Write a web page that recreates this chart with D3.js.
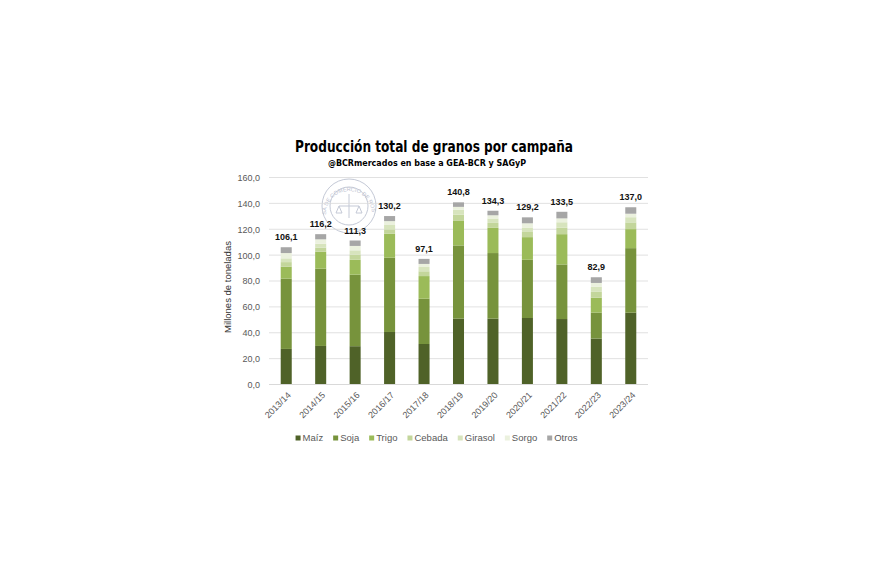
<!DOCTYPE html>
<html lang="es">
<head>
<meta charset="utf-8">
<title>Producción total de granos por campaña</title>
<style>
  body { margin: 0; background: #fff; }
  svg { display: block; }
</style>
</head>
<body>
<svg width="870" height="580"></svg>

<script src="https://cdn.jsdelivr.net/npm/d3@7"></script>
<script>
// Campañas y producción por cultivo (millones de toneladas)
var campaigns = ["2013/14", "2014/15", "2015/16", "2016/17", "2017/18", "2018/19",
                 "2019/20", "2020/21", "2021/22", "2022/23", "2023/24"];
var crops = ["Maíz", "Soja", "Trigo", "Cebada", "Girasol", "Sorgo", "Otros"];

var maiz    = [27.5, 29.8, 29.6, 40.6, 31.3, 50.9, 50.9, 51.4, 50.6, 35.5, 55.5];
var soja    = [54.3, 59.7, 55.3, 57.4, 35.0, 56.6, 50.7, 45.0, 42.2, 20.0, 49.9];
var trigo   = [ 9.3, 13.1, 11.5, 18.5, 17.5, 19.3, 19.5, 17.5, 23.4, 11.6, 14.7];
var cebada  = [ 3.5,  3.2,  4.0,  3.4,  3.7,  4.5,  3.8,  4.0,  5.0,  4.5,  5.2];
var girasol = [ 2.9,  3.0,  3.3,  3.4,  3.3,  3.8,  3.4,  3.4,  4.2,  3.9,  4.0];
var sorgo   = [ 4.1,  3.4,  3.4,  3.0,  2.4,  2.2,  2.5,  3.3,  3.0,  3.0,  2.7];
var otros   = [ 4.5,  4.0,  4.2,  3.9,  3.9,  3.5,  3.5,  4.6,  5.1,  4.4,  5.0];
var totals  = [106.1, 116.2, 111.3, 130.2, 97.1, 140.8, 134.3, 129.2, 133.5, 82.9, 137.0];

var yTicks = [0, 20, 40, 60, 80, 100, 120, 140, 160];
var colors = ["#4f6228", "#77933c", "#9bbb59", "#c3d69b", "#d7e4bd", "#ebf1de", "#a6a6a6"];

var series = [maiz, soja, trigo, cebada, girasol, sorgo, otros];
var rows = campaigns.map(function(c, i) {
    var r = { campaign: c, total: totals[i] };
    crops.forEach(function(k, j) { r[k] = series[j][i]; });
    return r;
});

var svg = d3.select("svg");
var font = "'Liberation Sans', Arial, sans-serif";
var fmt = function(v) { return d3.format(".1f")(v).replace(".", ","); };

var x = d3.scaleBand().domain(campaigns).range([269, 648])
    .paddingInner(0.68).paddingOuter(0.34);
var y = d3.scaleLinear().domain([0, 160]).range([384.5, 177.5]);
var color = d3.scaleOrdinal().domain(crops).range(colors);

// Sello de la Bolsa (marca de agua)
var seal = svg.append("g").attr("transform", "translate(349,206)")
    .attr("fill", "none").attr("stroke", "#c4c9d6").attr("stroke-width", 1);
seal.append("circle").attr("r", 27);
seal.append("circle").attr("r", 19);
seal.append("path").attr("id", "sealArc").attr("stroke", "none")
    .attr("d", "M -23,8 A 23,23 0 1,1 23,8");
seal.append("text").attr("fill", "#bcc1cf").attr("stroke", "none")
    .style("font-family", font).style("font-size", "5.5px")
    .append("textPath").attr("href", "#sealArc").attr("startOffset", "50%")
    .attr("text-anchor", "middle").text("BOLSA DE COMERCIO DE ROSARIO");
seal.append("path").attr("stroke", "#c4c9d6")
    .attr("d", "M -10,0 L 10,0 M 0,-12 L 0,12 M -10,0 L -13,7 L -7,7 Z M 10,0 L 7,7 L 13,7 Z");

// Líneas de cuadrícula
svg.append("g").selectAll("line").data(yTicks).join("line")
    .attr("x1", 269).attr("x2", 648)
    .attr("y1", function(d) { return y(d); }).attr("y2", function(d) { return y(d); })
    .attr("stroke", "#d9d9d9").attr("stroke-width", 0.8);

// Eje Y
var yAxis = svg.append("g").attr("transform", "translate(269,0)")
    .call(d3.axisLeft(y).tickValues(yTicks).tickSize(0).tickPadding(9).tickFormat(fmt));
yAxis.select(".domain").remove();
yAxis.selectAll("text").attr("fill", "#595959")
    .style("font-family", font).style("font-size", "9px");

svg.append("text")
    .attr("transform", "translate(231,287) rotate(-90)")
    .attr("text-anchor", "middle").attr("fill", "#333")
    .style("font-family", font).style("font-size", "9.5px")
    .text("Millones de toneladas");

// Barras apiladas
var stacked = d3.stack().keys(crops)(rows);
svg.append("g").selectAll("g").data(stacked).join("g")
    .attr("fill", function(d) { return color(d.key); })
    .selectAll("rect").data(function(d) { return d; }).join("rect")
    .attr("x", function(d) { return x(d.data.campaign); })
    .attr("width", x.bandwidth())
    .attr("y", function(d) { return y(d[1]); })
    .attr("height", function(d) { return y(d[0]) - y(d[1]); });

// Totales
svg.append("g").selectAll("text").data(rows).join("text")
    .attr("x", function(d) { return x(d.campaign) + x.bandwidth() / 2; })
    .attr("y", function(d) { return y(d.total) - 7; })
    .attr("text-anchor", "middle").attr("fill", "#111")
    .style("font-family", font).style("font-size", "9px").style("font-weight", "bold")
    .text(function(d) { return fmt(d.total); });

// Eje X
var xAxis = svg.append("g").attr("transform", "translate(0,384.5)")
    .call(d3.axisBottom(x).tickSize(0).tickPadding(0));
xAxis.select(".domain").attr("d", "M269,0H648").attr("stroke", "#d9d9d9");
xAxis.selectAll("text")
    .attr("transform", "translate(3,9) rotate(-45)")
    .attr("text-anchor", "end").attr("dy", "0.35em").attr("y", 0)
    .attr("fill", "#595959")
    .style("font-family", font).style("font-size", "9px");

// Títulos
svg.append("text").attr("x", 434).attr("y", 152).attr("text-anchor", "middle")
    .attr("textLength", 278).attr("lengthAdjust", "spacingAndGlyphs")
    .style("font-family", "'Liberation Sans Narrow', 'DejaVu Sans Condensed', sans-serif")
    .style("font-size", "16px").style("font-weight", "bold")
    .text("Producción total de granos por campaña");
svg.append("text").attr("x", 427).attr("y", 165.5).attr("text-anchor", "middle")
    .attr("textLength", 198).attr("lengthAdjust", "spacingAndGlyphs")
    .style("font-family", "'Liberation Sans Narrow', 'DejaVu Sans Condensed', sans-serif")
    .style("font-size", "8px").style("font-weight", "bold")
    .text("@BCRmercados en base a GEA-BCR y SAGyP");

// Leyenda
var legend = svg.append("g");
var lx = 0;
crops.forEach(function(k) {
    var item = legend.append("g").attr("transform", "translate(" + lx + ",0)");
    item.append("rect").attr("x", 0).attr("y", -2.5).attr("width", 5).attr("height", 5)
        .attr("fill", color(k));
    var t = item.append("text").attr("x", 7).attr("y", 0).attr("dy", "0.35em")
        .attr("fill", "#595959")
        .style("font-family", font).style("font-size", "9.5px").text(k);
    lx += 7 + t.node().getComputedTextLength() + 10;
});
legend.attr("transform", "translate(" + (436.5 - (lx - 10) / 2) + ",438)");
</script>
</body>
</html>
